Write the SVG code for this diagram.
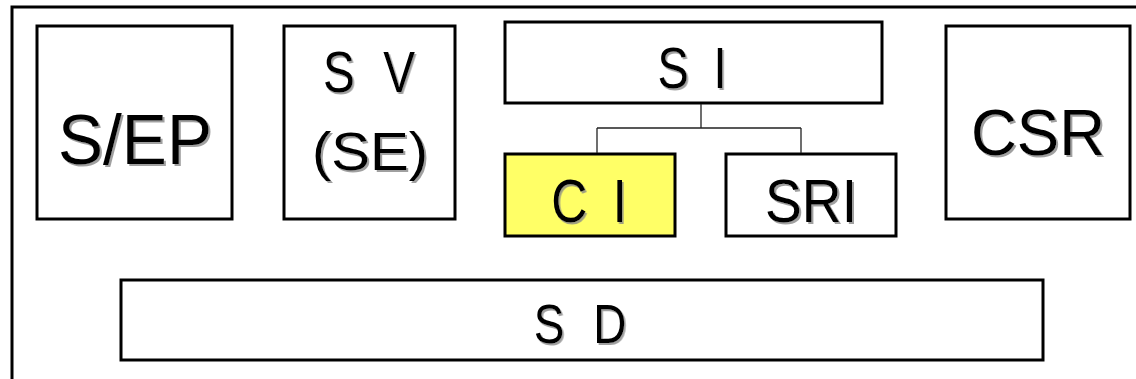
<svg xmlns="http://www.w3.org/2000/svg" width="1136" height="379" viewBox="0 0 1136 379">
<style>
.box{fill:#fff;stroke:#000;stroke-width:3}
.hl{fill:#ffff66}
.t{font-family:"Liberation Sans",Arial,sans-serif;fill:#000;text-anchor:middle;filter:url(#sh)}
.c{fill:none;stroke:#222;stroke-width:1.3}
</style>
<defs>
<filter id="sh" x="-10%" y="-10%" width="130%" height="140%">
<feDropShadow dx="2" dy="2" stdDeviation="0.6" flood-color="#888" flood-opacity="0.8"/>
</filter>
</defs>
<rect width="1136" height="379" fill="#fff"/>
<path d="M12,379 V7 H1136" fill="none" stroke="#000" stroke-width="3"/>
<g id="sep">
<rect class="box" x="37" y="26" width="195" height="193"/>
<text class="t" x="135" y="164" font-size="70" textLength="154" lengthAdjust="spacingAndGlyphs">S/EP</text>
</g>
<g id="sv">
<rect class="box" x="284" y="26" width="171" height="193"/>
<g transform="translate(369,0) scale(0.82,1)"><text class="t" x="0" y="92" font-size="58" textLength="112" lengthAdjust="spacing">S V</text></g>
<text class="t" x="370" y="170" font-size="53" textLength="116" lengthAdjust="spacingAndGlyphs">(SE)</text>
</g>
<g id="si">
<rect class="box" x="505" y="22" width="377" height="81"/>
<g transform="translate(692,0) scale(0.82,1)"><text class="t" x="0" y="88" font-size="57" textLength="84" lengthAdjust="spacing">S I</text></g>
</g>
<g id="ci">
<rect class="box hl" x="505" y="154" width="170" height="82"/>
<g transform="translate(589,0) scale(0.82,1)"><text class="t" x="0" y="222" font-size="61" textLength="92" lengthAdjust="spacing">C I</text></g>
</g>
<g id="sri">
<rect class="box" x="726" y="154" width="170" height="82"/>
<text class="t" x="811" y="222" font-size="61" textLength="92" lengthAdjust="spacingAndGlyphs">SRI</text>
</g>
<g id="csr">
<rect class="box" x="946" y="26" width="184" height="193"/>
<text class="t" x="1038" y="155" font-size="65" textLength="134" lengthAdjust="spacingAndGlyphs">CSR</text>
</g>
<g id="sd">
<rect class="box" x="121" y="280" width="922" height="80"/>
<g transform="translate(580,0) scale(0.82,1)"><text class="t" x="0" y="343" font-size="56" textLength="113" lengthAdjust="spacing">S D</text></g>
</g>
<g id="connectors">
<path class="c" d="M701,104 V128 M597,128 H801 M597,128 V153 M801,128 V153"/>
</g>
</svg>
